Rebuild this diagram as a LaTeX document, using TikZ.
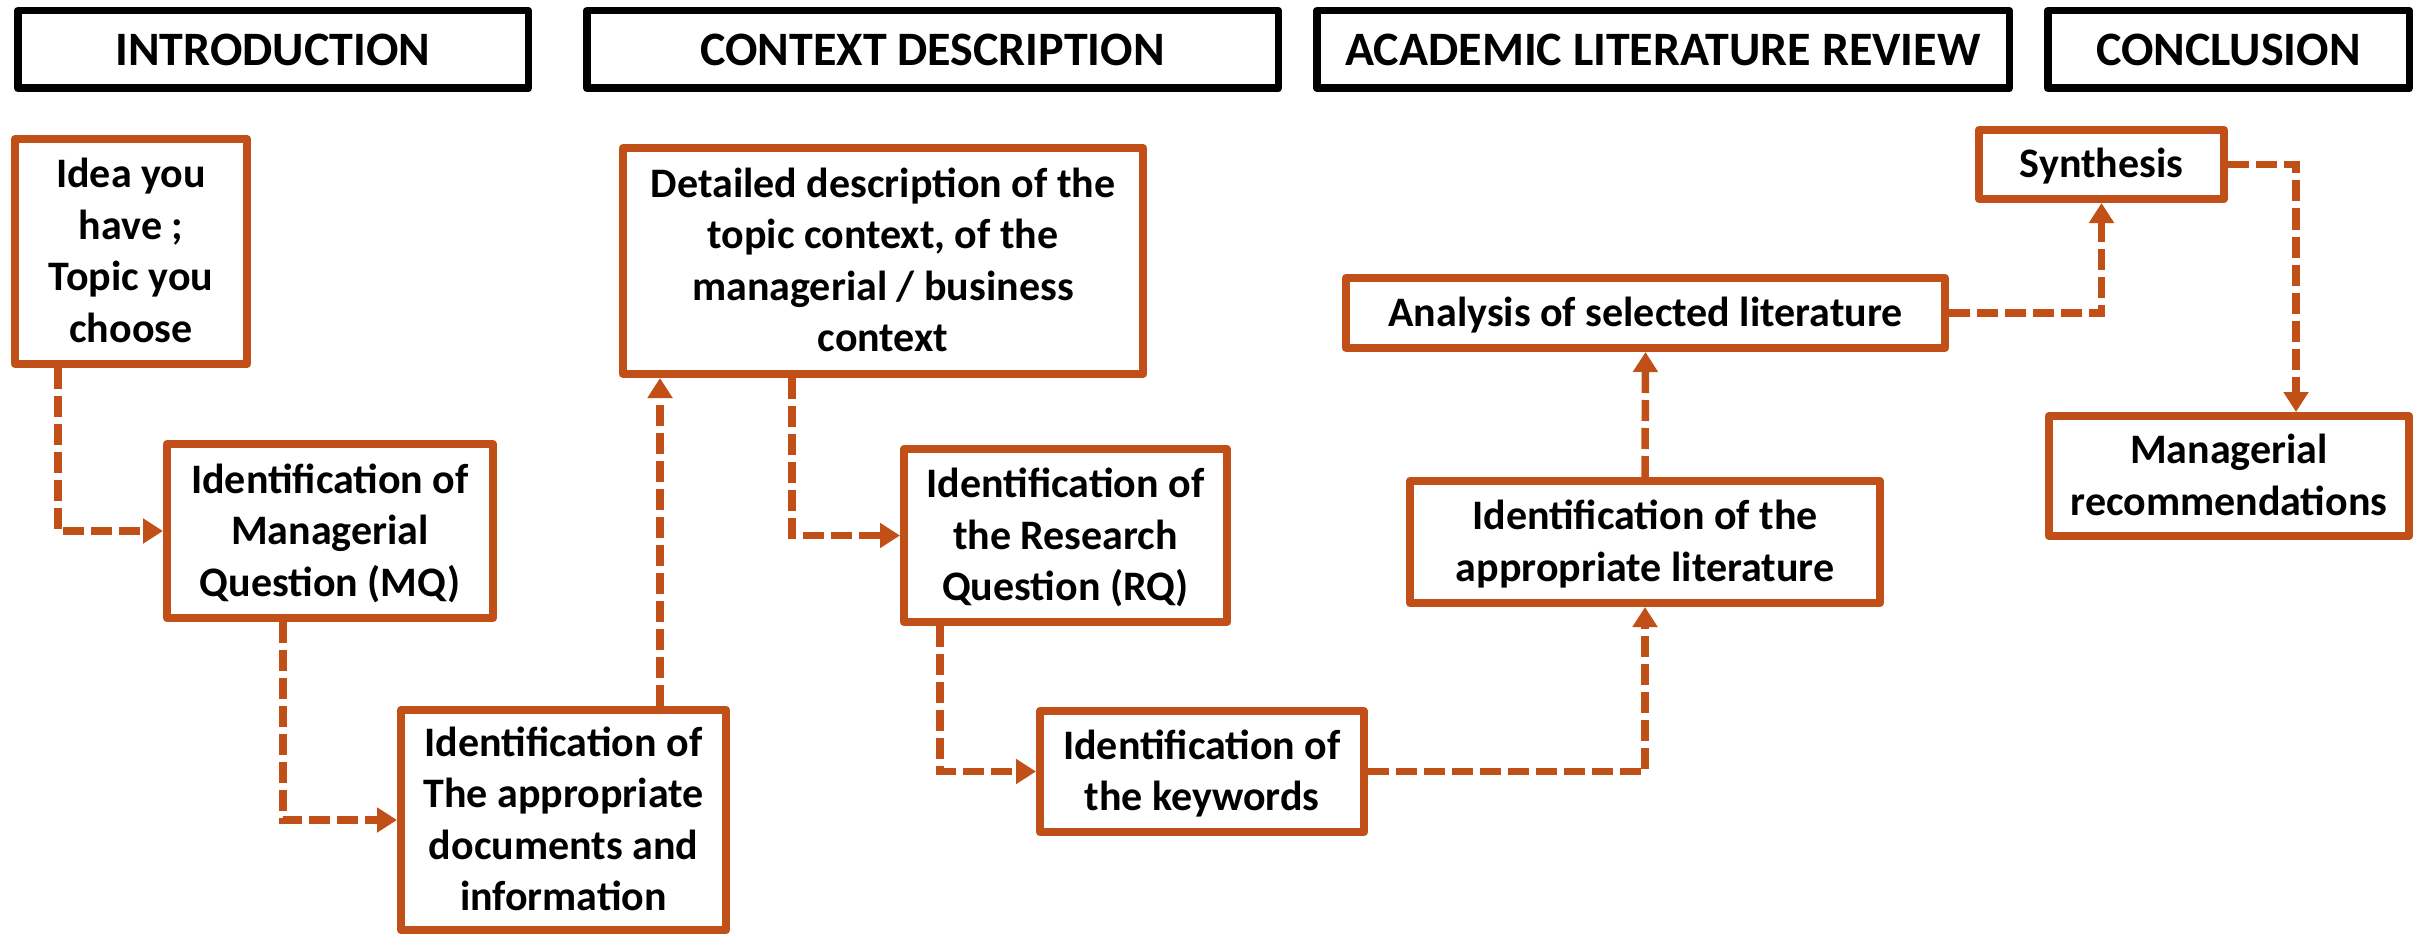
\documentclass[tikz,border=0pt]{standalone}
\usepackage{fontspec}
\setmainfont{Carlito}
\usetikzlibrary{arrows.meta,calc}
\definecolor{orng}{RGB}{192,80,23}
\newcommand{\fst}{\rule{0pt}{37pt}}
\tikzset{
  hdr/.style={draw=black, line width=7.5pt, minimum height=77.5pt, inner sep=0pt,
    line join=round, font=\fontsize{48}{58}\selectfont\bfseries, text=black},
  stepbox/.style={draw=orng, line width=8pt, inner sep=0pt, align=center, line join=round,
    font=\fontsize{42}{51.5}\selectfont\bfseries, text=black, fill=white,
    execute at end node={\rule[-10pt]{0pt}{10pt}}},
  conn/.style={draw=orng, line width=7.5pt, dash pattern=on 21pt off 7pt,
    -{Triangle[length=20pt,width=24pt]}, line join=miter}
}
\begin{document}
\begin{tikzpicture}[x=1pt,y=-1pt]
\useasboundingbox (0,0) rectangle (2427,936);
% headers
\node[hdr, minimum width=510.5pt] (h1) at (273,49.5) {INTRODUCTION};
\node[hdr, minimum width=691.5pt] (h2) at (932.5,49.5) {CONTEXT DESCRIPTION};
\node[hdr, minimum width=692.5pt] (h3) at (1663,49.5) {ACADEMIC LITERATURE REVIEW};
\node[hdr, minimum width=361.5pt] (h4) at (2228.5,49.5) {CONCLUSION};
% boxes
\node[stepbox, minimum width=232pt, minimum height=225pt] (idea) at (131,251.5) {\fst Idea you\\have ;\\Topic you\\choose};
\node[stepbox, minimum width=326pt, minimum height=174pt] (mq) at (330,531) {\fst Identification of\\Managerial\\Question (MQ)};
\node[stepbox, minimum width=325pt, minimum height=220pt] (docs) at (563.5,820) {\fst Identification of\\The appropriate\\documents and\\information};
\node[stepbox, minimum width=520pt, minimum height=226pt] (ctx) at (883,261) {\fst Detailed description of the\\topic context, of the\\managerial / business\\context};
\node[stepbox, minimum width=323pt, minimum height=173pt] (rq) at (1065.5,535.5) {\fst Identification of\\the Research\\Question (RQ)};
\node[stepbox, minimum width=324pt, minimum height=121pt] (kw) at (1202,771.5) {\fst Identification of\\the keywords};
\node[stepbox, minimum width=470pt, minimum height=122pt] (appr) at (1645,542) {\fst Identification of the\\appropriate literature};
\node[stepbox, minimum width=599pt, minimum height=70pt] (anl) at (1645.5,313) {\fst Analysis of selected literature};
\node[stepbox, minimum width=245pt, minimum height=69pt] (syn) at (2101.5,164.5) {\fst Synthesis};
\node[stepbox, minimum width=360pt, minimum height=120pt] (mrec) at (2229,476) {\fst Managerial\\recommendations};
% connectors
\draw[conn] ([xshift=-73pt]idea.south) |- (mq.west);
\draw[conn] ([xshift=-47pt]mq.south) |- (docs.west);
\draw[conn] ([xshift=96.5pt]docs.north) -- ([xshift=96.5pt]docs.north |- ctx.south);
\draw[conn] ([xshift=-91pt]ctx.south) |- (rq.west);
\draw[conn] ([xshift=-125.5pt]rq.south) |- (kw.west);
\draw[conn] (kw.east) -| (appr.south);
\draw[conn] (appr.north) -- (anl.south);
\draw[conn] (anl.east) -| (syn.south);
\draw[conn] (syn.east) -| ([xshift=67pt]mrec.north);
\end{tikzpicture}
\end{document}
